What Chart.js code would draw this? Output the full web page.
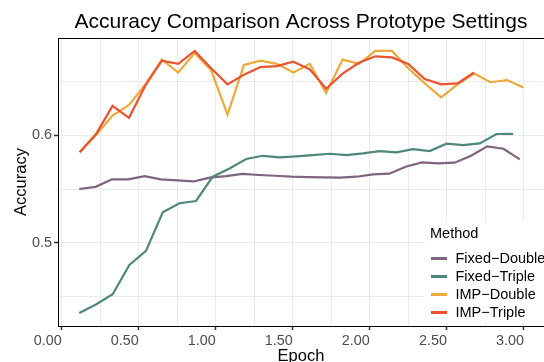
<!DOCTYPE html>
<html lang="en">
<head>
  <meta charset="UTF-8">
  <title>Accuracy Comparison Across Prototype Settings</title>
  <script src="https://cdn.jsdelivr.net/npm/chart.js"></script>
  <style>
    body { margin: 0; background: white; overflow: hidden; }
    #wrap { width: 544px; height: 362px; position: relative; }
  </style>
</head>
<body>
  <div id="wrap"><canvas id="accChart"></canvas></div>

  <script>
    const FONT = '"Liberation Sans", Arial, Helvetica, sans-serif';

    const methods = ['Fixed\u2212Double', 'Fixed\u2212Triple', 'IMP\u2212Double', 'IMP\u2212Triple'];
    const colors = ['#80637f', '#4f877c', '#eea93a', '#eb5230'];

    const fixedDoubleEpoch = [0.114, 0.220, 0.326, 0.432, 0.538, 0.644, 0.749, 0.855, 0.961, 1.067, 1.173, 1.279, 1.385, 1.491,
      1.597, 1.703, 1.808, 1.914, 2.020, 2.126, 2.232, 2.338, 2.444, 2.550, 2.656, 2.762, 2.867, 2.973];
    const fixedDoubleAcc = [0.550, 0.552, 0.559, 0.559, 0.562, 0.559, 0.558, 0.557, 0.5605, 0.562, 0.564, 0.563, 0.5623, 0.5614,
      0.561, 0.5607, 0.5605, 0.5614, 0.5636, 0.5642, 0.5707, 0.5747, 0.5738, 0.5744, 0.5808, 0.5895, 0.5873, 0.5775];

    const fixedTripleEpoch = [0.114, 0.222, 0.331, 0.439, 0.547, 0.656, 0.764, 0.872, 0.980, 1.089, 1.197, 1.305, 1.414, 1.522,
      1.630, 1.739, 1.847, 1.955, 2.063, 2.172, 2.280, 2.388, 2.497, 2.605, 2.713, 2.822, 2.930];
    const fixedTripleAcc = [0.435, 0.443, 0.4525, 0.4796, 0.4926, 0.5284, 0.5368, 0.5389, 0.5614, 0.5691, 0.5778, 0.5808, 0.5793, 0.5803,
      0.5815, 0.5827, 0.5815, 0.583, 0.5852, 0.584, 0.587, 0.5852, 0.592, 0.5907, 0.5923, 0.601, 0.6012];

    const impDoubleEpoch = [0.117, 0.223, 0.330, 0.437, 0.543, 0.650, 0.756, 0.863, 0.970, 1.076, 1.183, 1.290, 1.396, 1.503,
      1.610, 1.716, 1.823, 1.929, 2.036, 2.143, 2.249, 2.356, 2.463, 2.569, 2.676, 2.782, 2.889, 2.996];
    const impDoubleAcc = [0.584, 0.600, 0.618, 0.628, 0.647, 0.670, 0.658, 0.676, 0.660, 0.619, 0.665, 0.669, 0.666, 0.658,
      0.666, 0.639, 0.670, 0.666, 0.678, 0.678, 0.662, 0.648, 0.635, 0.647, 0.657, 0.649, 0.651, 0.644];

    const impTripleEpoch = [0.117, 0.223, 0.330, 0.437, 0.543, 0.650, 0.756, 0.863, 0.970, 1.076, 1.183, 1.290, 1.396, 1.503,
      1.610, 1.716, 1.823, 1.929, 2.036, 2.143, 2.249, 2.356, 2.463, 2.569, 2.676];
    const impTripleAcc = [0.584, 0.601, 0.627, 0.616, 0.646, 0.669, 0.666, 0.678, 0.662, 0.647, 0.656, 0.663, 0.664, 0.668,
      0.661, 0.643, 0.657, 0.667, 0.673, 0.672, 0.666, 0.652, 0.647, 0.648, 0.658];

    // major ticks carry labels, minor ones only a grid line
    const xMajor = [0, 0.5, 1, 1.5, 2, 2.5, 3];
    const xMinor = [0.25, 0.75, 1.25, 1.75, 2.25, 2.75];
    const yMajor = [0.5, 0.6];
    const yMinor = [0.45, 0.55, 0.65];

    const pts = (xs, ys) => xs.map((x, i) => ({ x: x, y: ys[i] }));
    const series = [
      pts(fixedDoubleEpoch, fixedDoubleAcc),
      pts(fixedTripleEpoch, fixedTripleAcc),
      pts(impDoubleEpoch, impDoubleAcc),
      pts(impTripleEpoch, impTripleAcc)
    ];

    const isMajor = (list, v) => list.some(m => Math.abs(m - v) < 1e-9);

    const decorations = {
      id: 'decorations',
      afterDatasetsDraw(chart) {
        const { ctx, chartArea } = chart;
        ctx.save();
        // top panel border
        ctx.strokeStyle = '#000';
        ctx.lineWidth = 1;
        ctx.beginPath();
        ctx.moveTo(chartArea.left, chartArea.top + 0.5);
        ctx.lineTo(chartArea.right, chartArea.top + 0.5);
        ctx.stroke();

        // title
        ctx.fillStyle = '#000';
        ctx.textAlign = 'center';
        ctx.textBaseline = 'alphabetic';
        ctx.font = '21px ' + FONT;
        ctx.fillText('Accuracy Comparison Across Prototype Settings', 301, 28);

        // axis titles
        ctx.font = '16.5px ' + FONT;
        ctx.fillText('Epoch', 301, 361);
        ctx.save();
        ctx.translate(26, 182);
        ctx.rotate(-Math.PI / 2);
        ctx.fillText('Accuracy', 0, 0);
        ctx.restore();

        // legend
        ctx.fillStyle = '#fff';
        ctx.fillRect(425, 222, 130, 101);
        ctx.fillStyle = '#000';
        ctx.textAlign = 'left';
        ctx.textBaseline = 'middle';
        ctx.font = '14.5px ' + FONT;
        ctx.fillText('Method', 430, 234);
        methods.forEach((m, i) => {
          const y = 258.5 + i * 18;
          ctx.strokeStyle = colors[i];
          ctx.lineWidth = 3;
          ctx.beginPath();
          ctx.moveTo(431, y);
          ctx.lineTo(447, y);
          ctx.stroke();
          ctx.fillStyle = '#000';
          ctx.font = '14.5px ' + FONT;
          ctx.fillText(m, 455.5, y);
        });
        ctx.restore();
      }
    };

    new Chart(document.getElementById('accChart'), {
      type: 'line',
      data: {
        datasets: series.map((d, i) => ({
          label: methods[i],
          data: d,
          borderColor: colors[i],
          backgroundColor: colors[i],
          borderWidth: 2.2,
          pointRadius: 0,
          tension: 0,
          order: 4 - i
        }))
      },
      options: {
        responsive: true,
        maintainAspectRatio: false,
        animation: false,
        layout: { padding: { top: 38, left: 0, right: 0, bottom: 0 } },
        plugins: {
          legend: { display: false },
          title: { display: false },
          tooltip: { enabled: false }
        },
        scales: {
          x: {
            type: 'linear',
            min: -0.024,
            max: 3.13,
            afterFit: s => { s.height = 36; },
            afterBuildTicks: s => {
              s.ticks = xMajor.concat(xMinor).sort((a, b) => a - b).map(v => ({ value: v }));
            },
            ticks: {
              autoSkip: false,
              maxRotation: 0,
              align: 'end',
              padding: 2,
              color: '#4d4d4d',
              font: { family: FONT, size: 14.4 },
              callback: v => isMajor(xMajor, v) ? v.toFixed(2) : ''
            },
            grid: {
              color: '#ebebeb',
              lineWidth: 1,
              tickLength: 4,
              tickColor: c => isMajor(xMajor, c.tick.value) ? '#333' : 'rgba(0,0,0,0)',
              tickWidth: 1.5
            },
            border: { display: true, color: '#000', width: 1 }
          },
          y: {
            type: 'linear',
            min: 0.423,
            max: 0.69,
            afterFit: s => { s.width = 58; },
            afterBuildTicks: s => {
              s.ticks = yMajor.concat(yMinor).sort((a, b) => a - b).map(v => ({ value: v }));
            },
            ticks: {
              autoSkip: false,
              padding: 2,
              color: '#4d4d4d',
              font: { family: FONT, size: 14.4 },
              callback: v => isMajor(yMajor, v) ? v.toFixed(1) : ''
            },
            grid: {
              color: '#ebebeb',
              lineWidth: 1,
              tickLength: 4,
              tickColor: c => isMajor(yMajor, c.tick.value) ? '#333' : 'rgba(0,0,0,0)',
              tickWidth: 1.5
            },
            border: { display: true, color: '#000', width: 1 }
          }
        }
      },
      plugins: [decorations]
    });
  </script>
</body>
</html>
